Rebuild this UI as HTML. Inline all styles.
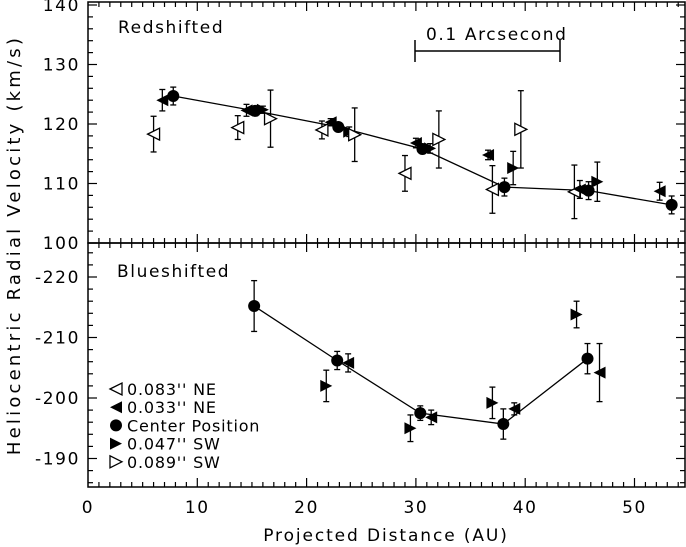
<!DOCTYPE html>
<html><head><meta charset="utf-8"><style>
body{margin:0;background:#fff}
svg{display:block;font-family:"DejaVu Sans","Liberation Sans",sans-serif}
</style></head><body>
<svg id="chart" width="686" height="547" viewBox="0 0 686 547" xmlns="http://www.w3.org/2000/svg"></svg>
<script>
// ---- data ----
const xTicks=[0,10,20,30,40,50];
const topTicks=[100,110,120,130,140];
const botTicks=[-220,-210,-200,-190];
// top panel (redshifted): [AU, velocity, error]
const redOpenNE=[[6.0,118.3,3],[13.7,119.4,2],[21.4,119,1.5],[29,111.7,3],[37,109,4],[44.5,108.6,4.5]];
const redFillNE=[[6.8,124,1.8],[14.5,122.3,1],[22.2,120.3,0.6],[30,116.8,0.8],[36.6,114.8,0.8],[45,109,1.5],[52.3,108.7,1.5]];
const redCenter=[[7.8,124.7,1.5],[15.3,122.2,0.8],[22.9,119.5,0.6],[30.6,115.8,0.6],[38.1,109.4,1.5],[45.8,108.8,1.5],[53.4,106.4,1.5]];
const redFillSW=[[16,122.4,0.6],[23.9,118.7,0.8],[31.3,115.9,0.8],[38.9,112.6,2.8],[46.6,110.3,3.3]];
const redOpenSW=[[16.7,120.9,4.8],[24.4,118.2,4.5],[32.1,117.4,4.8],[39.6,119.1,6.5]];
// bottom panel (blueshifted)
const blueCenter=[[15.2,-215.2,4.2],[22.8,-206.2,1.5],[30.4,-197.5,1.2],[38,-195.7,2.5],[45.7,-206.5,2.5]];
const blueFillSW=[[21.8,-202,2.6],[29.5,-195,2.2],[37,-199.2,2.6],[44.7,-213.8,2.2]];
const blueFillNE=[[23.8,-205.8,1.5],[31.4,-196.8,1.2],[39,-198.2,1],[46.8,-204.2,4.8]];

const NS="http://www.w3.org/2000/svg";
const svg=document.getElementById('chart');
const L=88,R=685,T=2,M=243,B=487;
const X=v=>88+v*10.93;
const YT=v=>243-(v-100)*5.95;
const YB=v=>277+(v+220)*6.05;
function el(tag,attrs,parent){const e=document.createElementNS(NS,tag);for(const k in attrs)e.setAttribute(k,attrs[k]);(parent||svg).appendChild(e);return e;}
function txt(s,x,y,a){const t=el('text',Object.assign({'font-size':17,'letter-spacing':1.6,fill:'#000'},a||{}));t.setAttribute('x',x);t.setAttribute('y',y);t.textContent=s;return t;}

const f1=el('rect',{x:L,y:T,width:R-L,height:M-T,fill:'none',stroke:'#000','stroke-width':1.5});

const f2=el('rect',{x:L,y:M,width:R-L,height:B-M,fill:'none',stroke:'#000','stroke-width':1.5});


for(let v=1;X(v)<R;v++){
  const x=X(v),len=(v%10===0)?9:5;
  [[T,1],[M,1],[M,-1],[B,-1]].forEach(([y,d])=>el('line',{x1:x,x2:x,y1:y,y2:y+d*len,stroke:'#000','stroke-width':1.2}));
}
xTicks.forEach(v=>{const t=txt(v,X(v),513,{'text-anchor':'middle'});});
for(let v=100;v<=140;v+=2){const y=YT(v),len=(v%10===0)?9:5;
  el('line',{x1:L,x2:L+len,y1:y,y2:y,stroke:'#000','stroke-width':1.2});
  el('line',{x1:R,x2:R-len,y1:y,y2:y,stroke:'#000','stroke-width':1.2});}
topTicks.forEach(v=>{const t=txt(v,80,YT(v)+6,{'text-anchor':'end'});});
for(let v=-224;v<=-186;v+=2){const y=YB(v),len=(v%10===0)?9:5;if(y<=M+1||y>=B-1)continue;
  el('line',{x1:L,x2:L+len,y1:y,y2:y,stroke:'#000','stroke-width':1.2});
  el('line',{x1:R,x2:R-len,y1:y,y2:y,stroke:'#000','stroke-width':1.2});}
botTicks.forEach(v=>{const t=txt(v,80,YB(v)+6,{'text-anchor':'end'});});

let t=txt('Projected Distance (AU)',386,541,{'text-anchor':'middle','letter-spacing':1.9});
t=txt('Heliocentric Radial Velocity (km/s)',0,0,{'text-anchor':'middle','font-size':18,'letter-spacing':3.2,transform:'translate(20,245) rotate(-90)'});
t=txt('Redshifted',118,33);
t=txt('Blueshifted',117,277);
const sb=el('g',{});
el('line',{x1:415,x2:560,y1:51,y2:51,stroke:'#000','stroke-width':1.5},sb);
el('line',{x1:415,x2:415,y1:40,y2:62,stroke:'#000','stroke-width':1.5},sb);
el('line',{x1:560,x2:560,y1:40,y2:62,stroke:'#000','stroke-width':1.5},sb);
txt('0.1 Arcsecond',426,40,{});

function marker(g,type,x,y,s){
  s=s||6;
  if(type==='circle')el('circle',{cx:x,cy:y,r:6,fill:'#000'},g);
  else if(type==='fl')el('polygon',{points:`${x-s},${y} ${x+s},${y-s} ${x+s},${y+s}`,fill:'#000'},g);
  else if(type==='ol')el('polygon',{points:`${x-s},${y} ${x+s},${y-s} ${x+s},${y+s}`,fill:'#fff',stroke:'#000','stroke-width':1.3},g);
  else if(type==='fr')el('polygon',{points:`${x+s},${y} ${x-s},${y-s} ${x-s},${y+s}`,fill:'#000'},g);
  else if(type==='or')el('polygon',{points:`${x+s},${y} ${x-s},${y-s} ${x-s},${y+s}`,fill:'#fff',stroke:'#000','stroke-width':1.3},g);
}
function series(data,Y,type,name,line){
  const g=el('g',{});
  if(line){el('polyline',{points:data.map(d=>X(d[0])+','+Y(d[1])).join(' '),fill:'none',stroke:'#000','stroke-width':1.3},g);}
  data.forEach(d=>{const x=X(d[0]),y1=Y(d[1]-d[2]),y2=Y(d[1]+d[2]);
    el('line',{x1:x,x2:x,y1:y1,y2:y2,stroke:'#000','stroke-width':1.3},g);
    el('line',{x1:x-3,x2:x+3,y1:y1,y2:y1,stroke:'#000','stroke-width':1.3},g);
    el('line',{x1:x-3,x2:x+3,y1:y2,y2:y2,stroke:'#000','stroke-width':1.3},g);
    marker(g,type,x,Y(d[1]));});
}
series(redCenter,YT,'circle','red-center-series',true);
series(redOpenNE,YT,'ol','red-083-ne-series');
series(redFillNE,YT,'fl','red-033-ne-series');
series(redFillSW,YT,'fr','red-047-sw-series');
series(redOpenSW,YT,'or','red-089-sw-series');
series(blueCenter,YB,'circle','blue-center-series',true);
series(blueFillSW,YB,'fr','blue-047-sw-series');
series(blueFillNE,YB,'fl','blue-033-ne-series');

const lg=el('g',{});
const items=[['ol','0.083\'\' NE'],['fl','0.033\'\' NE'],['circle','Center Position'],['fr','0.047\'\' SW'],['or','0.089\'\' SW']];
items.forEach((it,i)=>{const y=389+i*18.2;
  const g=el('g',{},lg);
  marker(g,it[0],116,y,6);
  const tt=txt(it[1],127,y+6,{'font-size':16,'letter-spacing':0.8});g.appendChild(tt);});
</script>
</body></html>
